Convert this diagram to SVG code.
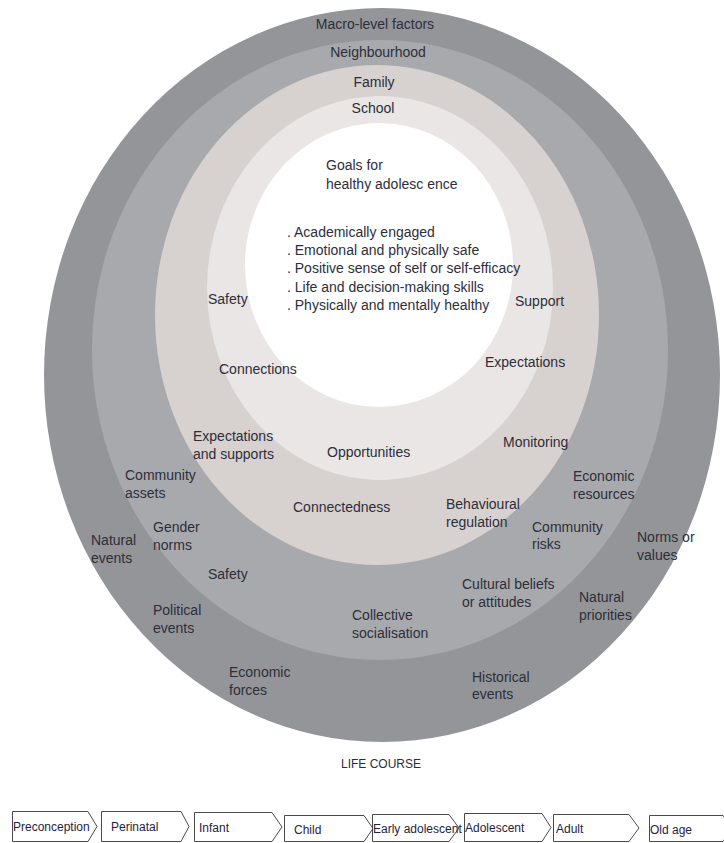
<svg xmlns="http://www.w3.org/2000/svg" width="724" height="843" viewBox="0 0 724 843">
<style>
text{font-family:"Liberation Sans",Arial,sans-serif;font-size:14px;fill:#2e2e3a}
.c{text-anchor:middle}
.ch{font-size:12px;fill:#1f2240}
.box{fill:#fff;stroke:#4a4a4a;stroke-width:1}
</style>
<rect width="724" height="843" fill="#fff"/>
<g id="ring-macro"><ellipse cx="382" cy="375" rx="338" ry="367" fill="#939598"/></g>
<g id="ring-neighbourhood"><ellipse cx="380" cy="350" rx="288" ry="310" fill="#a7a9ac"/></g>
<g id="ring-family"><ellipse cx="377" cy="315" rx="222" ry="250" fill="#d7d1cf"/></g>
<g id="ring-school"><ellipse cx="380" cy="288" rx="173" ry="192" fill="#e9e6e5"/></g>
<g id="ring-goals"><ellipse cx="379" cy="265" rx="134" ry="142" fill="#ffffff"/></g>

<g id="labels-rings">
<text class="c" x="375" y="29">Macro-level factors</text>
<text class="c" x="378" y="57">Neighbourhood</text>
<text class="c" x="374" y="87">Family</text>
<text class="c" x="373" y="113">School</text>
</g>

<g id="goals">
<text x="326" y="170">Goals for</text>
<text x="326" y="189">healthy adolesc ence</text>
<text x="287" y="237">. Academically engaged</text>
<text x="287" y="255">. Emotional and physically safe</text>
<text x="287" y="273">. Positive sense of self or self-efficacy</text>
<text x="287" y="292">. Life and decision-making skills</text>
<text x="287" y="310">. Physically and mentally healthy</text>
</g>

<g id="school-factors">
<text x="208" y="304">Safety</text>
<text x="515" y="306">Support</text>
<text x="219" y="374">Connections</text>
<text x="485" y="367">Expectations</text>
<text x="327" y="457">Opportunities</text>
</g>

<g id="family-factors">
<text x="193" y="441">Expectations</text>
<text x="193" y="459">and supports</text>
<text x="503" y="447">Monitoring</text>
<text x="293" y="512">Connectedness</text>
<text x="446" y="509">Behavioural</text>
<text x="446" y="527">regulation</text>
</g>

<g id="neighbourhood-factors">
<text x="125" y="480">Community</text>
<text x="125" y="498">assets</text>
<text x="573" y="481">Economic</text>
<text x="573" y="499">resources</text>
<text x="532" y="532">Community</text>
<text x="532" y="549">risks</text>
<text x="153" y="532">Gender</text>
<text x="153" y="550">norms</text>
<text x="208" y="579">Safety</text>
<text x="462" y="589">Cultural beliefs</text>
<text x="462" y="607">or attitudes</text>
<text x="352" y="620">Collective</text>
<text x="352" y="638">socialisation</text>
</g>

<g id="macro-factors">
<text x="637" y="542">Norms or</text>
<text x="637" y="560">values</text>
<text x="91" y="545">Natural</text>
<text x="91" y="563">events</text>
<text x="153" y="615">Political</text>
<text x="153" y="633">events</text>
<text x="579" y="602">Natural</text>
<text x="579" y="620">priorities</text>
<text x="229" y="677">Economic</text>
<text x="229" y="695">forces</text>
<text x="472" y="682">Historical</text>
<text x="472" y="699">events</text>
</g>

<g id="life-course-title"><text class="c" x="381" y="768" style="font-size:12px">LIFE COURSE</text></g>

<g id="connectors"></g>

<g id="stage-preconception"><polygon class="box" points="12.5,811.5 88,811.5 97,826.5 88,841.5 12.5,841.5"/><text class="ch" x="13" y="831">Preconception</text></g>
<g id="stage-perinatal"><polygon class="box" points="101.5,811.5 181,811.5 189,826.5 181,841.5 101.5,841.5"/><text class="ch" x="111" y="831">Perinatal</text></g>
<g id="stage-infant"><polygon class="box" points="194.5,812.5 272,812.5 282,827 272,841.5 194.5,841.5"/><text class="ch" x="199" y="832">Infant</text></g>
<g id="stage-child"><polygon class="box" points="284.5,815.5 364,815.5 373,828.5 364,841.5 284.5,841.5"/><text class="ch" x="294" y="834">Child</text></g>
<g id="stage-early-adolescent"><polygon class="box" points="372.5,814.5 449,814.5 459,828 449,841.5 372.5,841.5"/><text class="ch" x="373" y="833">Early adolescent</text></g>
<g id="stage-adolescent"><polygon class="box" points="464.5,813.5 542,813.5 551,827.5 542,841.5 464.5,841.5"/><text class="ch" x="465" y="832">Adolescent</text></g>
<g id="stage-adult"><polygon class="box" points="553.5,814.5 629,814.5 639,828 629,841.5 553.5,841.5"/><text class="ch" x="556" y="833">Adult</text></g>
<g id="stage-old-age"><polygon class="box" points="649.5,815.5 723,815.5 732,828.5 723,841.5 649.5,841.5"/><text class="ch" x="650" y="834">Old age</text></g>
</svg>
